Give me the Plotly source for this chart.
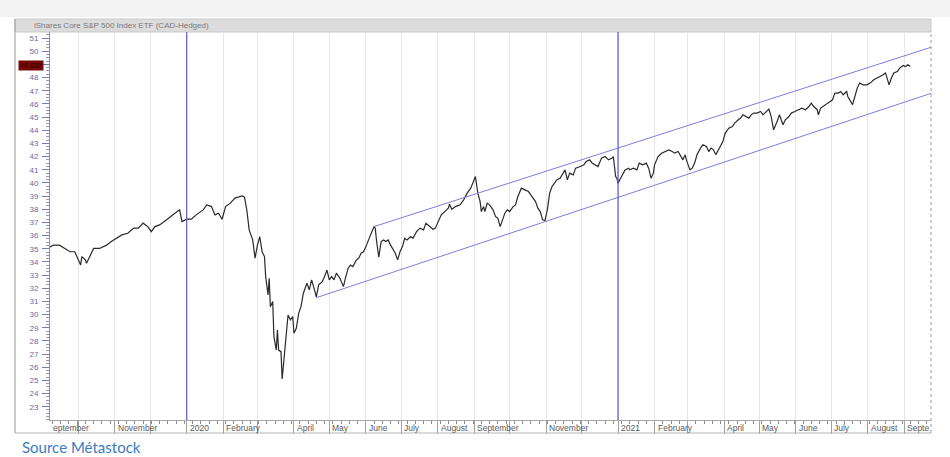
import plotly.graph_objects as go
import pandas as pd

# ---------------- data ----------------
dates = [
    "2019-09-07", "2019-09-10", "2019-09-15", "2019-09-20", "2019-09-24", "2019-09-28",
    "2019-10-01", "2019-10-03", "2019-10-04", "2019-10-07", "2019-10-08", "2019-10-11",
    "2019-10-14", "2019-10-19", "2019-10-25", "2019-10-29", "2019-11-02", "2019-11-07",
    "2019-11-12", "2019-11-17", "2019-11-21", "2019-11-25", "2019-11-29", "2019-12-02",
    "2019-12-05", "2019-12-09", "2019-12-13", "2019-12-18", "2019-12-22", "2019-12-26",
    "2019-12-28", "2020-01-01", "2020-01-05", "2020-01-09", "2020-01-15", "2020-01-18",
    "2020-01-22", "2020-01-25", "2020-01-28", "2020-01-31", "2020-02-03", "2020-02-07",
    "2020-02-11", "2020-02-17", "2020-02-19", "2020-02-21", "2020-02-23", "2020-02-26",
    "2020-02-28", "2020-03-01", "2020-03-03", "2020-03-05", "2020-03-07", "2020-03-08",
    "2020-03-10", "2020-03-11", "2020-03-12", "2020-03-14", "2020-03-15", "2020-03-17",
    "2020-03-18", "2020-03-19", "2020-03-21", "2020-03-22", "2020-03-24", "2020-03-26",
    "2020-03-27", "2020-03-29", "2020-03-31", "2020-04-01", "2020-04-03", "2020-04-05",
    "2020-04-07", "2020-04-09", "2020-04-12", "2020-04-14", "2020-04-16", "2020-04-18",
    "2020-04-20", "2020-04-22", "2020-04-25", "2020-04-27", "2020-04-29", "2020-05-01",
    "2020-05-03", "2020-05-05", "2020-05-07", "2020-05-10", "2020-05-12", "2020-05-13",
    "2020-05-15", "2020-05-17", "2020-05-19", "2020-05-21", "2020-05-24", "2020-05-26",
    "2020-05-28", "2020-05-30", "2020-06-01", "2020-06-03", "2020-06-05", "2020-06-08",
    "2020-06-09", "2020-06-10", "2020-06-12", "2020-06-14", "2020-06-16", "2020-06-18",
    "2020-06-20", "2020-06-22", "2020-06-24", "2020-06-26", "2020-06-28", "2020-06-30",
    "2020-07-02", "2020-07-04", "2020-07-06", "2020-07-09", "2020-07-11", "2020-07-14",
    "2020-07-17", "2020-07-20", "2020-07-22", "2020-07-25", "2020-07-28", "2020-07-30",
    "2020-08-02", "2020-08-04", "2020-08-07", "2020-08-10", "2020-08-11", "2020-08-13",
    "2020-08-16", "2020-08-20", "2020-08-23", "2020-08-26", "2020-08-29", "2020-08-31",
    "2020-09-02", "2020-09-04", "2020-09-06", "2020-09-07", "2020-09-09", "2020-09-10",
    "2020-09-12", "2020-09-14", "2020-09-17", "2020-09-19", "2020-09-21", "2020-09-23",
    "2020-09-25", "2020-09-27", "2020-09-29", "2020-10-01", "2020-10-04", "2020-10-06",
    "2020-10-08", "2020-10-11", "2020-10-14", "2020-10-17", "2020-10-20", "2020-10-23",
    "2020-10-25", "2020-10-27", "2020-10-29", "2020-10-31", "2020-11-02", "2020-11-04",
    "2020-11-06", "2020-11-08", "2020-11-10", "2020-11-13", "2020-11-15", "2020-11-17",
    "2020-11-19", "2020-11-21", "2020-11-24", "2020-11-26", "2020-11-30", "2020-12-03",
    "2020-12-05", "2020-12-08", "2020-12-10", "2020-12-13", "2020-12-15", "2020-12-18",
    "2020-12-21", "2020-12-24", "2020-12-27", "2020-12-28", "2020-12-30", "2020-12-31",
    "2021-01-01", "2021-01-04", "2021-01-07", "2021-01-10", "2021-01-11", "2021-01-14",
    "2021-01-17", "2021-01-19", "2021-01-22", "2021-01-25", "2021-01-27", "2021-01-29",
    "2021-01-31", "2021-02-01", "2021-02-04", "2021-02-07", "2021-02-10", "2021-02-13",
    "2021-02-16", "2021-02-18", "2021-02-21", "2021-02-23", "2021-02-25", "2021-02-27",
    "2021-02-28", "2021-03-03", "2021-03-05", "2021-03-07", "2021-03-09", "2021-03-12",
    "2021-03-14", "2021-03-17", "2021-03-19", "2021-03-21", "2021-03-23", "2021-03-25",
    "2021-03-27", "2021-03-29", "2021-03-31", "2021-04-02", "2021-04-05", "2021-04-08",
    "2021-04-10", "2021-04-13", "2021-04-15", "2021-04-17", "2021-04-20", "2021-04-22",
    "2021-04-24", "2021-04-26", "2021-04-29", "2021-05-02", "2021-05-04", "2021-05-07",
    "2021-05-09", "2021-05-11", "2021-05-13", "2021-05-16", "2021-05-18", "2021-05-21",
    "2021-05-23", "2021-05-26", "2021-05-28", "2021-05-31", "2021-06-03", "2021-06-06",
    "2021-06-09", "2021-06-12", "2021-06-14", "2021-06-16", "2021-06-19", "2021-06-20",
    "2021-06-22", "2021-06-24", "2021-06-27", "2021-06-30", "2021-07-02", "2021-07-04",
    "2021-07-07", "2021-07-09", "2021-07-11", "2021-07-14", "2021-07-15", "2021-07-18",
    "2021-07-19", "2021-07-21", "2021-07-23", "2021-07-25", "2021-07-28", "2021-07-31",
    "2021-08-03", "2021-08-06", "2021-08-09", "2021-08-11", "2021-08-14", "2021-08-16",
    "2021-08-18", "2021-08-19", "2021-08-21", "2021-08-23", "2021-08-26", "2021-08-28",
    "2021-08-31", "2021-09-02", "2021-09-04", "2021-09-06",
]

prices = [
    35.14, 35.27, 35.27, 35.02, 34.77, 34.77,
    34.15, 33.76, 34.40, 34.15, 33.89, 34.40,
    35.02, 35.02, 35.27, 35.54, 35.79, 36.05,
    36.17, 36.56, 36.56, 36.94, 36.68, 36.30,
    36.68, 36.81, 37.06, 37.45, 37.70, 37.95,
    37.06, 37.24, 37.24, 37.57, 37.95, 38.33,
    38.20, 37.57, 37.70, 37.24, 38.20, 38.46,
    38.84, 39.01, 38.91, 37.95, 36.43, 35.67,
    34.28, 35.27, 35.92, 34.77, 34.40, 32.88,
    31.49, 32.76, 30.60, 30.99, 28.32, 27.30,
    28.83, 27.30, 27.18, 25.10, 27.06, 29.08,
    29.97, 29.59, 29.84, 28.58, 28.96, 30.09,
    30.60, 31.62, 32.38, 31.87, 32.63, 32.00,
    31.35, 32.25, 32.50, 32.88, 33.38, 32.63,
    32.88, 32.63, 33.14, 32.76, 32.38, 32.12,
    32.88, 33.52, 33.76, 33.64, 34.15, 34.28,
    34.66, 34.77, 35.14, 35.67, 36.05, 36.68,
    36.56, 35.67, 34.35, 35.54, 35.67, 35.54,
    35.67, 35.27, 34.91, 34.66, 34.15, 34.77,
    35.14, 35.79, 35.67, 35.92, 35.79, 36.30,
    36.56, 36.43, 36.94, 36.68, 36.48, 36.56,
    37.19, 37.57, 37.82, 38.08, 38.38, 38.00,
    38.20, 38.33, 38.71, 39.22, 39.60, 39.98,
    40.48, 39.22, 38.58, 37.82, 38.20, 37.82,
    38.46, 38.33, 37.95, 37.45, 37.32, 36.68,
    37.19, 37.70, 37.95, 37.82, 38.20, 38.33,
    38.96, 39.60, 39.47, 39.34, 38.96, 38.58,
    38.08, 37.82, 37.19, 37.14, 37.95, 39.22,
    39.72, 39.98, 40.23, 40.36, 40.74, 40.99,
    40.23, 40.74, 40.61, 41.12, 41.24, 41.37,
    41.62, 41.75, 41.50, 41.37, 41.24, 41.88,
    42.00, 41.75, 41.88, 42.00, 40.48, 40.36,
    39.98, 40.48, 40.99, 41.12, 40.99, 41.12,
    40.99, 41.50, 41.37, 41.50, 41.12, 40.36,
    40.74, 41.37, 42.00, 42.25, 42.38, 42.51,
    42.38, 42.26, 42.38, 42.00, 41.75, 42.13,
    41.75, 40.99, 41.12, 41.50, 42.13, 42.64,
    42.89, 42.76, 42.38, 42.64, 42.51, 42.13,
    42.51, 42.89, 43.14, 43.78, 44.16, 44.28,
    44.54, 44.79, 44.92, 45.17, 45.04, 44.92,
    45.17, 45.30, 45.30, 45.42, 45.17, 45.42,
    45.61, 45.04, 44.03, 44.66, 45.17, 44.41,
    44.79, 45.04, 45.30, 45.42, 45.56, 45.68,
    45.56, 45.80, 46.06, 45.80, 45.56, 45.17,
    45.68, 45.80, 45.94, 46.18, 46.31, 46.82,
    46.82, 46.94, 46.69, 46.94, 46.56, 46.06,
    45.94, 46.56, 47.20, 47.58, 47.45, 47.45,
    47.58, 47.83, 47.96, 48.08, 48.21, 48.35,
    47.70, 47.45, 47.96, 48.35, 48.46, 48.72,
    48.92, 48.84, 48.97, 48.84,
]

# trend channel (two parallel lines)
upper_dates = ["2020-06-08", "2021-09-23 14:00"]
upper_values = [36.68, 50.30]
lower_dates = ["2020-04-20", "2021-09-23 14:00"]
lower_values = [31.28, 46.80]

# vertical year separators
year_lines = ["2020-01-01", "2021-01-01"]

# x labels written just after the month marks (as they appear, clipped at the edges)
month_label_dates = [
    "2019-09-07", "2019-11-01", "2020-01-01", "2020-02-01", "2020-04-01", "2020-05-01",
    "2020-06-01", "2020-07-01", "2020-08-01", "2020-09-01", "2020-11-01", "2021-01-01",
    "2021-02-01", "2021-04-01", "2021-05-01", "2021-06-01", "2021-07-01", "2021-08-01",
    "2021-09-01",
]
month_label_texts = [
    "eptember", "November", "2020", "February", "April", "May",
    "June", "July", "August", "September", "November", "2021",
    "February", "April", "May", "June", "July", "August",
    "Septe",
]

y_tick_values = list(range(23, 52))
y_tick_texts = ["" if v == 49 else str(v) for v in y_tick_values]  # 49 is hidden by the last-value box
last_value = 48.93
last_value_text = "48.930"

title_text = "iShares Core S&P 500 Index ETF (CAD-Hedged)"
source_text = "Source Métastock"

x_range = ["2019-09-07", "2021-09-23 14:00"]
y_range = [21.99, 51.46]

# ---------------- layout helpers (pixel -> paper) ----------------
W, H = 950, 457
L, R, T, B = 50, 19, 32, 37
PW, PH = W - L - R, H - T - B


def fx(px):
    return (px - L) / PW


def fy(py):
    return (H - B - py) / PH


month_ticks = pd.date_range("2019-10-01", "2021-09-01", freq="MS")

fig = go.Figure()

fig.add_trace(go.Scatter(
    x=dates, y=prices, mode="lines",
    line=dict(color="#2a2a2a", width=1.2),
    hoverinfo="skip", showlegend=False,
))
fig.add_trace(go.Scatter(
    x=upper_dates, y=upper_values, mode="lines",
    line=dict(color="#7d7de0", width=1),
    hoverinfo="skip", showlegend=False,
))
fig.add_trace(go.Scatter(
    x=lower_dates, y=lower_values, mode="lines",
    line=dict(color="#7d7de0", width=1),
    hoverinfo="skip", showlegend=False,
))

shapes = []
# faint strip at the very top of the screenshot
shapes.append(dict(type="rect", xref="paper", yref="paper",
                   x0=fx(0), x1=fx(W), y0=fy(17), y1=fy(0),
                   fillcolor="#f3f3f3", line=dict(width=0), layer="below"))
# title bar
shapes.append(dict(type="rect", xref="paper", yref="paper",
                   x0=fx(15), x1=fx(931), y0=fy(32), y1=fy(19),
                   fillcolor="#dcdcdc", line=dict(color="#c8c8c8", width=1), layer="below"))
# left frame line of the panel
shapes.append(dict(type="line", xref="paper", yref="paper",
                   x0=fx(15), x1=fx(15), y0=fy(433), y1=fy(19),
                   line=dict(color="#9a9a9a", width=1)))
# bottom of the date band
shapes.append(dict(type="line", xref="paper", yref="paper",
                   x0=fx(15), x1=fx(931), y0=fy(433), y1=fy(433),
                   line=dict(color="#b5b5b5", width=1)))
# right edge of the chart
shapes.append(dict(type="line", xref="paper", yref="paper",
                   x0=1, x1=1, y0=fy(433), y1=1,
                   line=dict(color="#9a9a9a", width=1, dash="dot")))
# year separators
for d in year_lines:
    shapes.append(dict(type="line", xref="x", yref="paper",
                       x0=d, x1=d, y0=0, y1=1,
                       line=dict(color="#5a5ad0", width=1.2)))

annotations = []
annotations.append(dict(xref="paper", yref="paper", x=fx(32), y=fy(25.5),
                        xanchor="left", yanchor="middle", showarrow=False,
                        text=title_text,
                        font=dict(family="Liberation Sans, Arial, sans-serif", size=8, color="#7a7a7a")))
for d, t in zip(month_label_dates, month_label_texts):
    annotations.append(dict(xref="x", yref="paper", x=d, y=fy(428), xshift=1,
                            xanchor="left", yanchor="middle", showarrow=False,
                            text=t,
                            font=dict(family="Liberation Sans, Arial, sans-serif", size=8.5, color="#5a5a5a")))
annotations.append(dict(xref="paper", yref="y", x=fx(31), y=last_value,
                        xanchor="center", yanchor="middle", showarrow=False,
                        text=last_value_text, bgcolor="#7a0808", borderpad=1,
                        font=dict(family="Liberation Sans, Arial, sans-serif", size=7, color="#2a0000")))
annotations.append(dict(xref="paper", yref="paper", x=fx(20), y=fy(447),
                        xanchor="left", yanchor="middle", showarrow=False,
                        text=source_text,
                        font=dict(family="Lato, Open Sans, sans-serif", size=15, color="#3a7cc0")))

fig.update_layout(
    width=W, height=H,
    margin=dict(l=L, r=R, t=T, b=B, pad=0),
    paper_bgcolor="white", plot_bgcolor="white",
    showlegend=False,
    shapes=shapes,
    annotations=annotations,
    xaxis=dict(
        type="date", range=x_range,
        tickmode="array", tickvals=month_ticks, ticktext=[""] * len(month_ticks),
        ticks="outside", ticklen=13, tickcolor="#a0a0a0", tickwidth=1,
        showgrid=True, gridcolor="#e6e6e6", gridwidth=1,
        showline=True, linecolor="#a8a8a8", linewidth=1,
        zeroline=False,
        minor=dict(ticks="outside", ticklen=3, tickcolor="#8a8a8a",
                   dtick=7 * 24 * 3600 * 1000, tick0="2019-09-02", showgrid=False),
    ),
    yaxis=dict(
        range=y_range,
        tickmode="array", tickvals=y_tick_values, ticktext=y_tick_texts,
        ticks="outside", ticklen=7, tickcolor="#7a7ab8", tickwidth=1,
        ticklabelstandoff=2,
        tickfont=dict(family="Liberation Sans, Arial, sans-serif", size=8, color="#6a6aa8"),
        showgrid=False, zeroline=False,
        showline=True, linecolor="#8a8ac0", linewidth=1,
        minor=dict(ticks="outside", ticklen=3, tickcolor="#9a9ac8", dtick=0.25, showgrid=False),
    ),
)

fig.write_html("out.html", config={"displayModeBar": False},
               post_script="document.body.style.margin='0';")
